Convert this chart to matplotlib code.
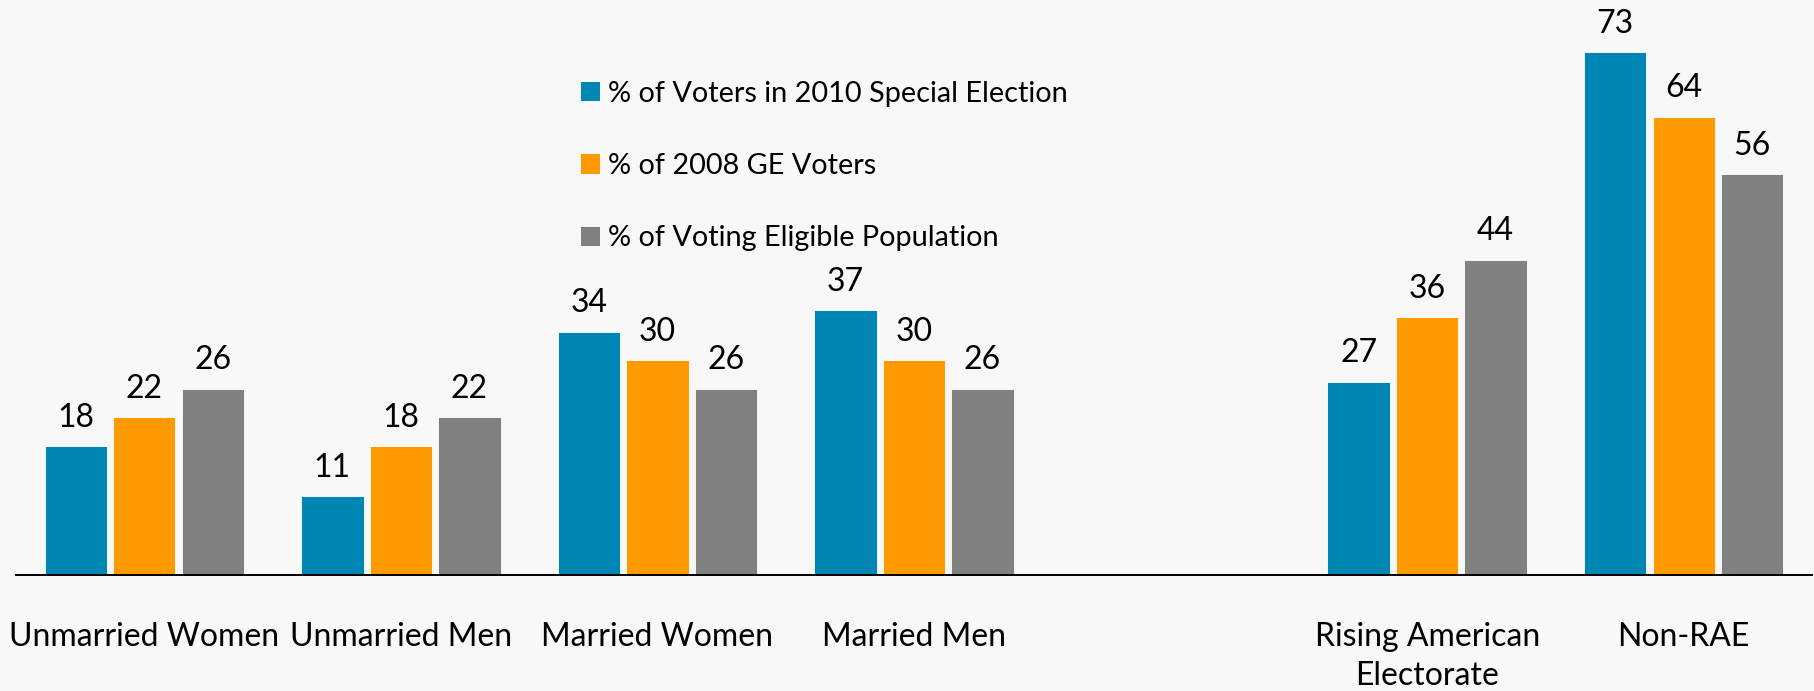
import numpy as np
import matplotlib.pyplot as plt
from matplotlib.patches import Patch

categories = ['Unmarried Women', 'Unmarried Men', 'Married Women', 'Married Men',
              '', 'Rising American\nElectorate', 'Non-RAE']
series_names = ['% of Voters in 2010 Special Election',
                '% of 2008 GE Voters',
                '% of Voting Eligible Population']
voters_2010 = [18, 11, 34, 37, None, 27, 73]
voters_2008 = [22, 18, 30, 30, None, 36, 64]
eligible_pop = [26, 22, 26, 26, None, 44, 56]

COLORS = ['#0086B4', '#FF9900', '#808080']
BG = '#F8F8F8'

plt.rcParams['font.family'] = ['Lato', 'DejaVu Sans']

fig = plt.figure(figsize=(18.14, 6.91), dpi=100, facecolor=BG)
ax = fig.add_axes([16 / 1814, 116 / 691, 1796 / 1814, 575 / 691])
ax.set_facecolor(BG)

x = np.arange(len(categories))
width = 0.243
step = 0.267

for i, (vals, col) in enumerate(zip([voters_2010, voters_2008, eligible_pop], COLORS)):
    idx = [k for k, v in enumerate(vals) if v is not None]
    heights = [vals[k] for k in idx]
    xs = x[idx] + (i - 1) * step
    bars = ax.bar(xs, heights, width, color=col, edgecolor='#FFFFFF', linewidth=0.6)
    for b, h in zip(bars, heights):
        ax.annotate(str(h), (b.get_x() + b.get_width() / 2, h),
                    xytext=(0, 14), textcoords='offset points',
                    ha='center', va='baseline', fontsize=23, color='black')

ax.set_xlim(-0.5, len(categories) - 0.5)
ax.set_ylim(0, 80.3)
ax.set_xticks(x)
ax.set_xticklabels(categories, fontsize=23, linespacing=1.35)
ax.tick_params(axis='x', length=0, pad=34)
ax.set_yticks([])
for s in ['top', 'left', 'right']:
    ax.spines[s].set_visible(False)
ax.spines['bottom'].set_color('black')
ax.spines['bottom'].set_linewidth(1.4)

handles = [Patch(facecolor=c, edgecolor='none') for c in COLORS]
leg = ax.legend(handles, series_names, loc='upper left',
                bbox_to_anchor=(581 / 1814, 1 - 81 / 691), bbox_transform=fig.transFigure,
                frameon=False, fontsize=20.8, handlelength=0.65, handleheight=0.65,
                handletextpad=0.3, labelspacing=1.6, borderpad=0, borderaxespad=0)

fig.savefig('out.png', dpi=100, facecolor=BG)
